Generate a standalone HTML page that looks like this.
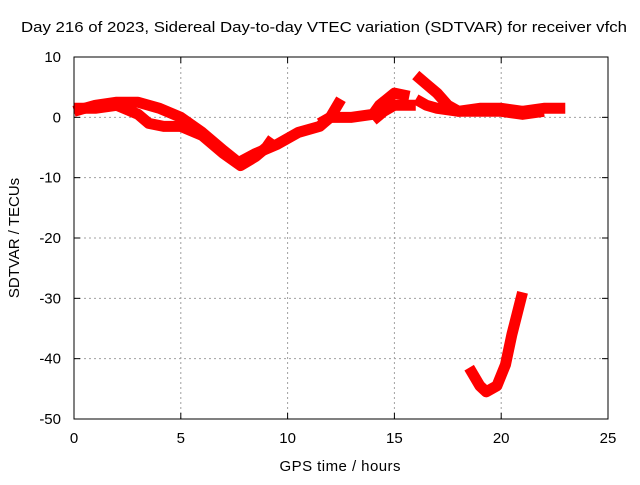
<!DOCTYPE html>
<html><head><meta charset="utf-8"><style>
body{margin:0;background:#fff}
svg text{font-family:"Liberation Sans",sans-serif;font-size:15px;fill:#000}
</style></head><body>
<svg width="640" height="480">
<rect width="640" height="480" fill="#fff"/>
<g id="grid"></g><g id="series"></g><g id="axes"></g>
<text x="21" y="32" textLength="606" lengthAdjust="spacingAndGlyphs">Day 216 of 2023, Sidereal Day-to-day VTEC variation (SDTVAR) for receiver vfch</text>
<text x="340" y="471" text-anchor="middle" textLength="121">GPS time / hours</text>
<text transform="translate(19,238) rotate(-90)" text-anchor="middle">SDTVAR / TECUs</text>
</svg>
<script>
const xTicks=[0,5,10,15,20,25];
const yTicks=[10,0,-10,-20,-30,-40,-50];
const trackA=[[0,1],[1,2],[2,2.5],[3,2.5],[4,1.5],[5,0],[6,-2.5],[7,-5.5],[7.7,-7.5],[8.5,-6],[9.5,-4.5],[10.5,-2.5],[11.5,-1.5],[12,0],[12.5,3]];
const trackB=[[0,1.5],[1,1.5],[2,2],[3,0.5],[3.5,-1],[4.2,-1.5],[5,-1.5],[6,-3],[7,-6],[7.8,-8],[8.5,-6.5],[9,-5],[9.3,-3.5]];
const trackC=[[11.5,-1],[12,0],[13,0],[14,0.5],[14.3,2],[15,4],[15.7,3.5]];
const trackD=[[14,-0.5],[14.5,1],[15,2],[16,2]];
const trackE=[[16,7],[16.5,5.5],[17,4],[17.5,2],[18,1],[19,1.5],[20,1.5],[21,1],[22,1.5],[23,1.5]];
const trackF=[[16,3],[16.5,2],[17,1.5],[18,1],[19,1],[20,1],[21,0.5],[22,1]];
const trackG=[[18.5,-41.5],[19,-44.5],[19.3,-45.5],[19.8,-44.5],[20.2,-41],[20.5,-36],[21,-29]];
const tracks=[trackA,trackB,trackC,trackD,trackE,trackF,trackG];
const X0=74,X1=608,Y0=419,Y1=57;
const sx=v=>X0+(v-0)/25*(X1-X0);
const sy=v=>Y0-(v+50)/60*(Y0-Y1);
const NS="http://www.w3.org/2000/svg";
const mk=(t,a,p)=>{const e=document.createElementNS(NS,t);for(const k in a)e.setAttribute(k,a[k]);p.appendChild(e);return e;};
const grid=document.getElementById('grid'),axes=document.getElementById('axes'),ser=document.getElementById('series');
xTicks.forEach(t=>{
 if(t>0&&t<25){const g=mk('line',{x1:sx(t),x2:sx(t),y1:Y0,y2:Y1,stroke:'#a0a0a0','stroke-dasharray':'2,3'},grid);
 
 }
 mk('line',{x1:sx(t),x2:sx(t),y1:Y0,y2:Y0-6,stroke:'#000'},axes);
 mk('line',{x1:sx(t),x2:sx(t),y1:Y1,y2:Y1+6,stroke:'#000'},axes);
 const l=mk('text',{x:sx(t),y:Y0+24,'text-anchor':'middle'},axes);l.textContent=t;
 
 
});
yTicks.forEach(t=>{
 if(t<10&&t>-50){const g=mk('line',{x1:X0,x2:X1,y1:sy(t),y2:sy(t),stroke:'#a0a0a0','stroke-dasharray':'2,3'},grid);
 
 }
 mk('line',{x1:X0,x2:X0+6,y1:sy(t),y2:sy(t),stroke:'#000'},axes);
 mk('line',{x1:X1,x2:X1-6,y1:sy(t),y2:sy(t),stroke:'#000'},axes);
 const l=mk('text',{x:X0-13,y:sy(t)+5,'text-anchor':'end'},axes);l.textContent=t;
 
 
});
const fr=mk('rect',{x:X0,y:Y1,width:X1-X0,height:Y0-Y1,fill:'none',stroke:'#000'},axes);


tracks.forEach(tr=>{
 const p=mk('polyline',{points:tr.map(d=>sx(d[0])+','+sy(d[1])).join(' '),fill:'none',stroke:'#ff0000','stroke-width':11,'stroke-linejoin':'round','stroke-linecap':'butt'},ser);
 
 
});
</script>
</body></html>
